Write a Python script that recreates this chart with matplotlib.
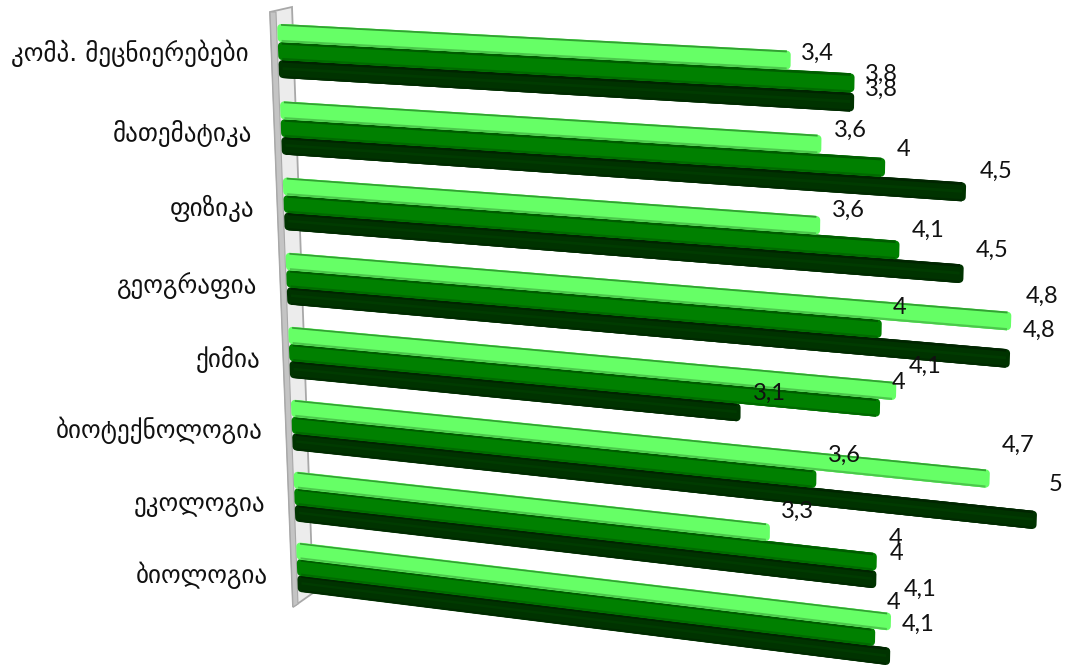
import numpy as np
import matplotlib
matplotlib.use("Agg")
import matplotlib.pyplot as plt
from matplotlib.transforms import Transform
from matplotlib.patches import Polygon

categories = ["კომპ. მეცნიერებები", "მათემატიკა", "ფიზიკა", "გეოგრაფია",
              "ქიმია", "ბიოტექნოლოგია", "ეკოლოგია", "ბიოლოგია"]
series_light = [3.4, 3.6, 3.6, 4.8, 4.1, 4.7, 3.3, 4.1]
series_mid = [3.8, 4.0, 4.1, 4.0, 4.0, 3.6, 4.0, 4.0]
series_dark = [3.8, 4.5, 4.5, 4.8, 3.1, 5.0, 4.0, 4.1]

# pixel offsets of every value label from the end of its bar (light, mid, dark); y is upward
label_offsets = [
    [(28, 7), (28, 9), (28, 13)],
    [(30, 14), (19, 18), (31, 21)],
    [(29, 15), (30, 20), (30, 23)],
    [(32, 25), (19, 21), (30, 28)],
    [(30, 25), (20, 25), (30, 19)],
    [(29, 34), (29, 24), (20, 36)],
    [(29, 21), (20, 23), (21, 26)],
    [(30, 32), (20, 35), (29, 32)],
]
category_dy = [-2, -5, -4, -7, -7, -5, -8, -8]

# calibration of the 3D view: (value, row) -> canvas pixel
src = [(0, 0), (0, 7), (4.1, 7), (3.8, 0)]
dst = [(281, 24), (300, 543), (890, 613), (854, 54)]


def homography(src, dst):
    A, b = [], []
    for (u, w), (x, y) in zip(src, dst):
        A.append([u, w, 1, 0, 0, 0, -u * x, -w * x])
        A.append([0, 0, 0, u, w, 1, -u * y, -w * y])
        b += [x, y]
    return np.append(np.linalg.solve(np.array(A, float), np.array(b, float)), 1).reshape(3, 3)


class Perspective(Transform):
    input_dims = output_dims = 2
    is_separable = False
    has_inverse = False

    def __init__(self, matrix):
        super().__init__()
        self.matrix = matrix

    def transform_non_affine(self, values):
        pts = np.column_stack([values, np.ones(len(values))])
        out = pts @ self.matrix.T
        return out[:, :2] / out[:, 2:3]


fig = plt.figure(figsize=(10.66, 6.66), dpi=100)
ax = fig.add_axes([0, 0, 1, 1])
view = Perspective(homography(src, dst)) + ax.transData

# side wall
ax.add_patch(Polygon([(270, 12), (292, 7), (313, 593), (293, 607)], closed=True,
                     facecolor="#ececec", edgecolor="#a8a8a8", lw=1.3, zorder=1))
ax.add_patch(Polygon([(270, 12), (276, 12), (298, 604), (293, 607)], closed=True,
                     facecolor="#c4c4c4", edgecolor="#a8a8a8", lw=0.8, zorder=1))

rows = np.arange(len(categories))
bar_h = 0.232
inset = 0.018
round_in = 0.05
styles = [  # body colour, then bands (from, to, colour) across the bar
    ("#66ff66", [(0.0, 0.1, "#33a033"), (0.88, 1.0, "#4cc84c")]),
    ("#008000", [(0.0, 0.14, "#005c00"), (0.88, 1.0, "#006a00")]),
    ("#003300", [(0.0, 0.14, "#002400"), (0.4, 0.55, "#003b00"), (0.88, 1.0, "#002a00")]),
]
all_series = [series_light, series_mid, series_dark]

for i in (2, 1, 0):
    vals = np.array(all_series[i]) - inset
    top = rows + i * bar_h
    body, bands = styles[i]
    z = 5 - i
    ax.barh(top + round_in, vals, height=bar_h - 2 * round_in, left=0, align="edge", color=body,
            edgecolor=body, linewidth=5.6, joinstyle="round", transform=view, zorder=z)
    ax.barh(top, vals, height=bar_h, left=0, align="edge", color=body, linewidth=0,
            transform=view, zorder=z)
    for f0, f1, c in bands:
        ax.barh(top + f0 * bar_h, vals, height=(f1 - f0) * bar_h, left=0, align="edge",
                color=c, linewidth=0, transform=view, zorder=z)

value_font = dict(family="Lato", fontsize=17, color="#111111", ha="center", va="center", zorder=10)
for r in rows:
    for i, s in enumerate(all_series):
        txt = f"{s[r]:g}".replace(".", ",")
        ax.annotate(txt, xy=(s[r], r + (i + 0.5) * bar_h), xycoords=view,
                    xytext=label_offsets[r][i], textcoords="offset pixels", **value_font)
    ax.annotate(categories[r], xy=(0, r + 1.5 * bar_h), xycoords=view, xytext=(-33, category_dy[r]),
                textcoords="offset pixels", family="DejaVu Sans", fontsize=18,
                color="#111111", ha="right", va="center")

ax.set_xlim(0, 1066)
ax.set_ylim(666, 0)
ax.axis("off")
fig.savefig("out.png", dpi=100)
